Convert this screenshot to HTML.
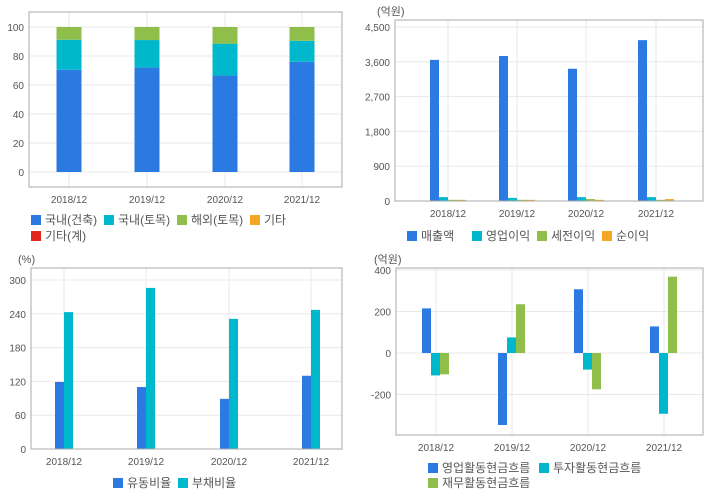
<!DOCTYPE html>
<html><head><meta charset="utf-8"><style>
body{margin:0;background:#fff;width:720px;height:496px;overflow:hidden}
svg{display:block}
text{font-family:"Liberation Sans","Noto Sans CJK KR",sans-serif;fill:#555}
</style></head><body>
<svg id="s" width="720" height="496"></svg>
<script>
const years=["2018/12","2019/12","2020/12","2021/12"];
// chart 1: revenue composition (%)
const c1Build=[70.5,72,66.5,76];
const c1Civil=[20.7,19,22,14.5];
const c1Overseas=[8.8,9,11.5,9.5];
const c1Ticks=[0,20,40,60,80,100];
// chart 2: income (억원)
const c2Sales=[3650,3750,3420,4160];
const c2Op=[100,80,100,100];
const c2Pretax=[30,30,50,30];
const c2Net=[30,30,30,50];
const c2Ticks=[0,900,1800,2700,3600,4500];
const c2TickLabels=["0","900","1,800","2,700","3,600","4,500"];
// chart 3: ratios (%)
const c3Current=[119,110,89,130];
const c3Debt=[243,286,231,247];
const c3Ticks=[0,60,120,180,240,300];
// chart 4: cash flows (억원)
const c4Op=[215,-347,307,128];
const c4Inv=[-108,75,-80,-293];
const c4Fin=[-103,235,-175,368];
const c4Ticks=[-200,0,200,400];

const C={blue:"#2a7ae2",cyan:"#00b8cc",green:"#8fbf4a",orange:"#f5a623",red:"#e3261c"};
const NS="http://www.w3.org/2000/svg";
const S=document.getElementById('s');
function el(t,a,p){const e=document.createElementNS(NS,t);for(const k in a)e.setAttribute(k,a[k]);(p||S).appendChild(e);return e;}
function txt(x,y,s,anchor,size,name){const t=el('text',{x:x,y:y,'text-anchor':anchor||'start','font-size':size||11});t.textContent=s;


return t;}

function chart(o){
  const g=el('g',{});
  
  
  const y=v=>o.y0+(v-o.v0)*(o.y1-o.y0)/(o.v1-o.v0);
  // gridlines
  o.cx.forEach(cx=>{el('line',{x1:cx,x2:cx,y1:o.top,y2:o.bot,stroke:'#e8e8e8'},g);});
  o.ticks.forEach((t,i)=>{const yy=y(t);el('line',{x1:o.left,x2:o.right,y1:yy,y2:yy,stroke:'#e8e8e8'},g);
    const tl=txt(o.left-5,yy+4,o.tickLabels?o.tickLabels[i]:String(t),'end',10,'y-tick-label');g.appendChild(tl);});
  // bars
  o.series.forEach((s,si)=>{
    s.data.forEach((v,i)=>{
      let x,yt,yb;
      if(o.stacked){x=o.cx[i]-o.bw/2;let base=0;for(let k=0;k<si;k++)base+=o.series[k].data[i];yb=y(base);yt=y(base+v);}
      else{x=o.cx[i]+o.off+si*o.bw;yb=y(0);yt=y(v);}
      const r=el('rect',{x:x,y:Math.min(yt,yb),width:o.bw,height:Math.abs(yb-yt),fill:s.color},g);
      
      
    });
  });
  el('rect',{x:o.left,y:o.top,width:o.right-o.left,height:o.bot-o.top,fill:'none',stroke:'#aaa'},g);
  o.cx.forEach((cx,i)=>{const t=txt(cx,o.bot+16,years[i],'middle',10,'x-tick-label');g.appendChild(t);});
  if(o.unit){const t=txt(o.unitX,o.top-5,o.unit,'start',11,'unit-label');g.appendChild(t);}
  o.legend.forEach(L=>{
    const r=el('rect',{x:L.x,y:L.y-9,width:10,height:10,fill:L.color},g);
    
    
    const t=txt(L.x+14,L.y,L.label,'start',12,'legend-entry');
    t.setAttribute('fill','#333');g.appendChild(t);
  });
}
chart({name:'revenue-composition-chart',left:29,right:342,top:12,bot:187,y0:172,y1:27,v0:0,v1:100,
  cx:[69,147,225,302],bw:25,stacked:true,ticks:c1Ticks,
  series:[{key:'domestic-building',data:c1Build,color:C.blue},{key:'domestic-civil',data:c1Civil,color:C.cyan},{key:'overseas-civil',data:c1Overseas,color:C.green}],
  legend:[{x:31,y:224,color:C.blue,label:'국내(건축)'},{x:104,y:224,color:C.cyan,label:'국내(토목)'},{x:177,y:224,color:C.green,label:'해외(토목)'},{x:250,y:224,color:C.orange,label:'기타'},{x:31,y:240,color:C.red,label:'기타(계)'}]});
chart({name:'income-chart',left:395,right:703,top:20,bot:201,y0:201,y1:27,v0:0,v1:4500,
  cx:[448,517,586,656],bw:9,off:-18,ticks:c2Ticks,tickLabels:c2TickLabels,unit:'(억원)',unitX:377,
  series:[{key:'sales',data:c2Sales,color:C.blue},{key:'operating-profit',data:c2Op,color:C.cyan},{key:'pretax-profit',data:c2Pretax,color:C.green},{key:'net-profit',data:c2Net,color:C.orange}],
  legend:[{x:407,y:240,color:C.blue,label:'매출액'},{x:472,y:240,color:C.cyan,label:'영업이익'},{x:537,y:240,color:C.green,label:'세전이익'},{x:602,y:240,color:C.orange,label:'순이익'}]});
chart({name:'ratio-chart',left:31,right:342,top:268,bot:449,y0:449,y1:280,v0:0,v1:300,
  cx:[64,146,229,311],bw:9,off:-9,ticks:c3Ticks,unit:'(%)',unitX:18,
  series:[{key:'current-ratio',data:c3Current,color:C.blue},{key:'debt-ratio',data:c3Debt,color:C.cyan}],
  legend:[{x:113,y:487,color:C.blue,label:'유동비율'},{x:178,y:487,color:C.cyan,label:'부채비율'}]});
chart({name:'cashflow-chart',left:396,right:703,top:268,bot:435,y0:353,y1:270,v0:0,v1:400,
  cx:[436,512,588,664],bw:9,off:-14,ticks:c4Ticks,unit:'(억원)',unitX:374,
  series:[{key:'operating-cf',data:c4Op,color:C.blue},{key:'investing-cf',data:c4Inv,color:C.cyan},{key:'financing-cf',data:c4Fin,color:C.green}],
  legend:[{x:428,y:472,color:C.blue,label:'영업활동현금흐름'},{x:539,y:472,color:C.cyan,label:'투자활동현금흐름'},{x:428,y:487,color:C.green,label:'재무활동현금흐름'}]});
</script>
</body></html>
